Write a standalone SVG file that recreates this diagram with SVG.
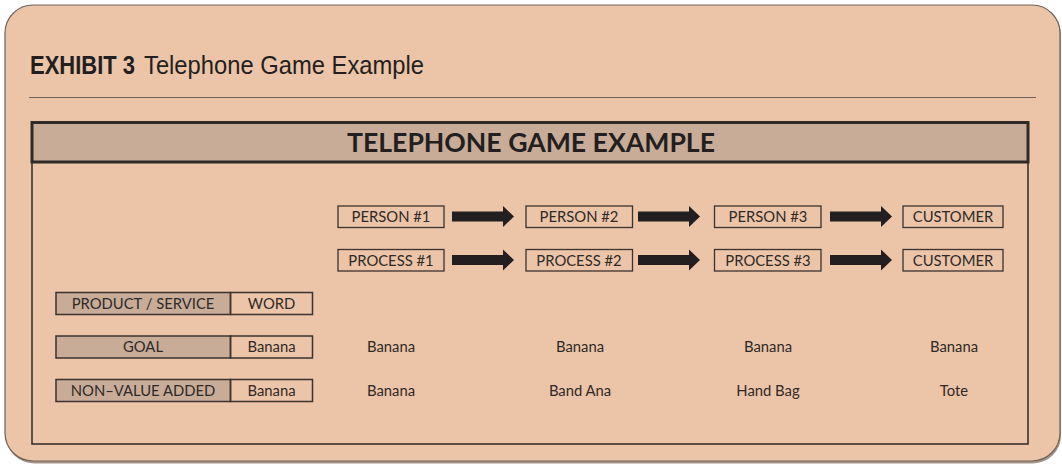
<svg xmlns="http://www.w3.org/2000/svg" width="1062" height="471" viewBox="0 0 1062 471">
  <defs>
    <style>
      .card { fill: #ECC4A7; stroke: #6E625A; stroke-width: 1.2; }
      .box { fill: none; stroke: #3A3330; stroke-width: 1.3; }
      .lbl { fill: #C8AC98; stroke: #3A3330; stroke-width: 1.5; }
      .val { fill: none; stroke: #3A3330; stroke-width: 1.5; }
      .t { font-family: Lato, "Open Sans", sans-serif; font-size: 14.8px; fill: #2E2A28; text-anchor: middle; }
      .arrow { fill: #231F20; }
      .hd { font-family: "Liberation Sans", sans-serif; font-size: 25px; fill: #231F20; }
    </style>
    <path id="arr" d="M0,5.5 H51 V0 L62,10.5 L51,21 V15.5 H0 Z"/>
  </defs>

  <!-- card with shadow -->
  <rect x="6" y="6.5" width="1055" height="457" rx="28" fill="#A8958A"/>
  <rect x="5" y="5" width="1055" height="456" rx="28" class="card"/>

  <text x="30" y="74" class="hd" font-weight="bold" textLength="105" lengthAdjust="spacingAndGlyphs">EXHIBIT 3</text>
  <text x="144" y="74" class="hd" textLength="280" lengthAdjust="spacingAndGlyphs">Telephone Game Example</text>
  <line x1="29" y1="97.5" x2="1036" y2="97.5" stroke="#6E625A" stroke-width="1.2"/>

  <!-- frame -->
  <g id="frame">
    <rect x="32" y="162" width="996" height="282" fill="none" stroke="#2E2A28" stroke-width="1.5"/>
    <rect x="32" y="122.5" width="996" height="39.5" fill="#C8AC98" stroke="#2E2A28" stroke-width="3"/>
    <text x="531" y="152" font-family="Lato, 'Open Sans', sans-serif" font-size="26" font-weight="bold" fill="#231F20" text-anchor="middle" textLength="368" lengthAdjust="spacingAndGlyphs">TELEPHONE GAME EXAMPLE</text>
  </g>

  <!-- row 1 nodes -->
  <g id="person1"><rect x="338" y="206" width="106" height="21.5" class="box"/><text x="391" y="222" class="t">PERSON #1</text></g>
  <g id="person2"><rect x="526" y="206" width="106.5" height="21.5" class="box"/><text x="579" y="222" class="t">PERSON #2</text></g>
  <g id="person3"><rect x="714.5" y="206" width="106.5" height="21.5" class="box"/><text x="768" y="222" class="t">PERSON #3</text></g>
  <g id="customer1"><rect x="903" y="206" width="100" height="21.5" class="box"/><text x="953" y="222" class="t">CUSTOMER</text></g>

  <!-- row 2 nodes -->
  <g id="process1"><rect x="338" y="249.5" width="106" height="21.5" class="box"/><text x="391" y="265.5" class="t">PROCESS #1</text></g>
  <g id="process2"><rect x="526" y="249.5" width="106.5" height="21.5" class="box"/><text x="579" y="265.5" class="t">PROCESS #2</text></g>
  <g id="process3"><rect x="714.5" y="249.5" width="106.5" height="21.5" class="box"/><text x="768" y="265.5" class="t">PROCESS #3</text></g>
  <g id="customer2"><rect x="903" y="249.5" width="100" height="21.5" class="box"/><text x="953" y="265.5" class="t">CUSTOMER</text></g>

  <!-- connectors -->
  <g id="connectors" class="arrow">
    <use href="#arr" x="452" y="206"/>
    <use href="#arr" x="638" y="206"/>
    <use href="#arr" x="830" y="206"/>
    <use href="#arr" x="452" y="249.5"/>
    <use href="#arr" x="638" y="249.5"/>
    <use href="#arr" x="830" y="249.5"/>
  </g>

  <!-- left table -->
  <g id="row-product">
    <rect x="56" y="292.5" width="174.5" height="22" class="lbl"/>
    <rect x="230.5" y="292.5" width="82" height="22" class="val"/>
    <text x="143" y="308.5" class="t">PRODUCT / SERVICE</text>
    <text x="271.5" y="308.5" class="t">WORD</text>
  </g>
  <g id="row-goal">
    <rect x="56" y="336" width="174.5" height="22" class="lbl"/>
    <rect x="230.5" y="336" width="82" height="22" class="val"/>
    <text x="143" y="352" class="t">GOAL</text>
    <text x="271.5" y="352" class="t">Banana</text>
    <text x="391" y="352" class="t">Banana</text>
    <text x="580" y="352" class="t">Banana</text>
    <text x="768" y="352" class="t">Banana</text>
    <text x="954" y="352" class="t">Banana</text>
  </g>
  <g id="row-nva">
    <rect x="56" y="379.5" width="174.5" height="22" class="lbl"/>
    <rect x="230.5" y="379.5" width="82" height="22" class="val"/>
    <text x="143" y="395.5" class="t">NON–VALUE ADDED</text>
    <text x="271.5" y="395.5" class="t">Banana</text>
    <text x="391" y="395.5" class="t">Banana</text>
    <text x="580" y="395.5" class="t">Band Ana</text>
    <text x="768" y="395.5" class="t">Hand Bag</text>
    <text x="954" y="395.5" class="t">Tote</text>
  </g>
</svg>
